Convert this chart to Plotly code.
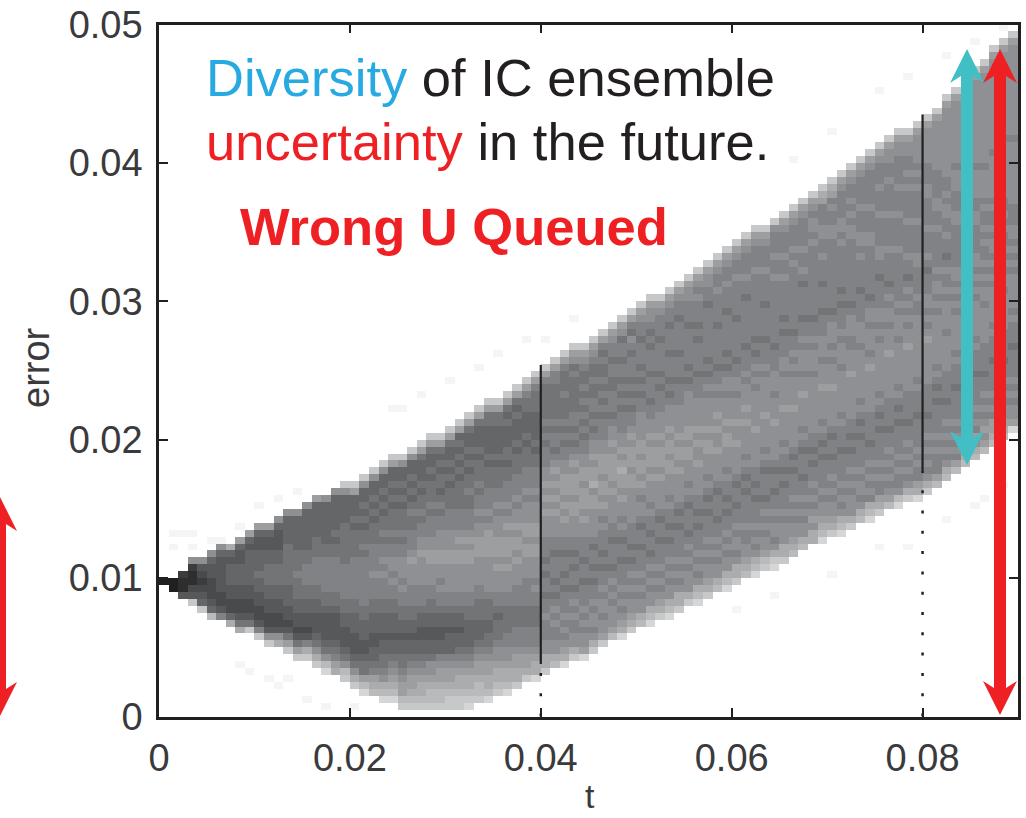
import plotly.graph_objects as go

# Each column of the density picture, bottom to top, one character per cell (dark 0 .. light f)
LOWER_ROW = [19,18,17,16,15,14,14,13,12,12,
             11,10,10,9,8,8,7,6,6,5,
             4,3,3,2,2,1,1,1,1,1,
             1,1,1,2,2,3,3,4,5,5,
             6,7,7,8,8,9,10,11,11,12,
             13,13,14,14,15,16,16,17,18,18,
             19,20,20,21,21,22,23,24,25,25,
             26,26,27,28,28,29,30,30,31,31,
             32,33,34,35,36,37,38,39,40,41]
SHADES = [
 "0","00","4112","c431128","c5432348","b543334458","7433444445 8","a533445554 5a",
 "a643344555 4459","c643344555 55459","c743344556 5554459","c843344556 66554459",
 "a843344556 665544458","c964344555 6666665555 8","c964344556 6676665555 58",
 "ca74344556 6777665555 558","ca86544455 6677776665 55559","db86544445 6677777665 555558",
 "a976544445 6677777665 6555558",
 "cb86544455 6677777666 66655558c","ca86544455 5667777776 666565559c",
 "db96654455 5667777777 6766565655 8c","ba97655445 5566777877 7766656565 58c",
 "dba8766554 5556677787 8776766565 6558c","dba9876554 5556677878 8776766656 56559c",
 "cb99876655 4556677878 8877676665 656558c","cba9987655 4556677788 8987776676 5656558c",
 "cbaa987655 4455677788 8898877676 65655569c","cbba988655 4455667788 8998877767 666565569c",
 "cbba998755 4455677878 8998887767 656656569c","ccba998755 5455677888 8998887776 6656565569 c",
 "ccbaa98765 5455677888 8998987776 6665656565 9c","dcbaa98765 5556677888 8998987776 6766565655 69c",
 "cbba998765 5566677888 8999887877 6766656555 69c","dbaa998766 5566678888 8999987877 7666565555 669c",
 "cbaa988766 6567788898 9998887877 6665655556 69c","dbaa988776 6667788898 9998987877 7665665556 569c",
 "caa9987776 6677788898 9989887877 7666565556 569c","ca99877766 6777788899 8998887877 7666565556 679c",
 "daa9877766 6778788899 8998887877 7665655556 6679c",
 "caa8877787 7677676777 8889898988 7776767666 6679c","ba88778787 6767776778 8898989898 7677676666 6779c",
 "da98787877 7676776778 8989899988 7767676667 66679c","ca88778787 6776767788 8998999898 7676776666 67689c",
 "d988787877 7677677788 9899989988 7767676767 66789c","ca87887877 6767767888 8998a99898 8767677667 66789c",
 "c988788787 7676777878 9899899988 7776767676 67679c","b988878787 6777677888 8989999898 8767776677 67789c",
 "da98787877 7677678788 9899a98988 7776767677 677689c","ca98878787 6767778888 8998999898 7767676777 678679c",
 "ba88787877 7677678878 9899899888 8776767677 767789c","dba8878787 6776778788 8989998988 7767776777 6767889c",
 "ca98787877 7677678888 9899989888 7776767777 677789c","dba8878787 7676778788 8998998988 8767677767 7767789c",
 "caa8787877 7767678888 9899898888 7776777677 7767789c","ca88878787 6777678788 8998998888 8767677777 6777889c",
 "dba8787877 7676778888 9889898888 7776777767 677787 89c","ca98878787 7767678788 8998988887 8767677777 776778 89c",
 "ba88787877 6777678888 9889898878 7767777767 777877 89c","dba8878787 7676778788 8998988878 8767677777 67778778 9c",
 "caa8788787 7677678888 9889888788 7767777767 777787789c","ba98877877 7767678788 8898988878 7776777777 677877789c",
 "dba8787877 7676778888 8988888787 8767677777 7777877789 c","cb98878787 6777678788 8898888878 7776777767 777877789c",
 "dca8788787 7677678888 8988878887 7767777777 7787787778 c","caa8887877 7676778788 8898888788 7776767777 7877877789 c",
 "ba98878787 7767678888 8988887878 7767777777 7787877789 c","ba88787877 6777678788 8898878887 8776777767 8778777789 c",
 "aa89878787 7676778888 8888788878 7767777777 7778788789 c","dba9887877 7767678788 8898887888 7776777677 7877887779 ac",
 "ca98878787 7677678888 8988878788 8767777777 7778877879 ac","dba8787877 7767778788 8888788878 7776767777 7787887777 89c",
 "ca88878787 7676778888 8898887788 8767777777 7788787877 89c","ba87887877 7767678788 8888878887 7776777787 8877787777 89c",
 "dba7878787 7677778888 8898788878 8767777777 8877787777 789c","ca97787877 7767678788 8888878788 7777677887 7778777877 789c",
 "b987878787 7677778888 8898887887 8767777877 7787777877 889c","db87787877 7767678788 8888788878 7777777877 7787778777 7889c",
 "ca87878787 7677778888 8898878787 8767787777 8777787877 889c","da97787877 7767778788 8888888778 7777887777 8777787878 8889c",
 "ca87878787 7677778888 8898787887 7767877787 7778877788 8889c","b977787877 7767678788 8888878788 7877777877 8877778888 8889c",
 "ba87878787 7677778888 8788887877 8767787788 7877888888 88889c","b978787877 7767778788 8887878788 7777778877 7888788888 88889c",
 "ba88878787 7677778888 8788787877 8767887787 8888788888 888889c","ba89787877 7767778788 8887878788 7777887788 8878888888 888889c",
 "b989878787 7677778888 8788787877 8787787888 8788888888 888889c","ba99787877 7767778788 8887878788 7877878888 8878888888 8888889c",
 "ba98878787 7677778888 8788787877 8787788888 8887888888 8888889c","d988787877 7767778788 8887878788 7778888888 8878888888 8888889c",
]
FAINT_COL = [1,2,3,1,3,5,6,8,10,12,14,24,25,27,30,33,35,38,40,43,66,70,75,78,82,85,88,15,17,20,60,64,70,75,78,82,85,88,86,8,9,11,12,13]
FAINT_ROW = [26,26,26,24,24,25,25,27,30,31,32,44,44,46,48,50,52,54,54,57,80,84,90,92,95,97,99,2,1,1,15,17,20,24,24,28,30,33,31,7,6,5,4,5]

X_TICKS = [0, 0.02, 0.04, 0.06, 0.08]
X_LABELS = ["0", "0.02", "0.04", "0.06", "0.08"]
Y_TICKS = [0, 0.01, 0.02, 0.03, 0.04, 0.05]
Y_LABELS = ["0", "0.01", "0.02", "0.03", "0.04", "0.05"]

SOLID_LINES = [(0.04, 0.0038, 0.0254), (0.08, 0.0178, 0.0435)]
DOTTED_LINES = [(0.04, 0.0, 0.0038), (0.08, 0.0, 0.0178)]

W, H = 1026, 818
L, R, T, B = 159, 1018, 24.5, 716.5
TMAX, EMAX = 0.09, 0.05
INK = "#231f20"
LABEL = "#3a3a3c"
BLUE = "#27aae1"
RED = "#ee2024"
TEAL = "#41bfc4"

NCOL, NROW = 90, 100
z = [[None] * NCOL for _ in range(NROW)]
for c, r in zip(FAINT_COL, FAINT_ROW):
    z[r][c] = 245
for c, (low, s) in enumerate(zip(LOWER_ROW, SHADES)):
    for k, ch in enumerate(s.replace(" ", "")):
        if low + k < NROW:
            z[low + k][c] = 32 + 14 * int(ch, 16)

fig = go.Figure(go.Heatmap(
    z=z, x0=0.0005, dx=0.001, y0=0.00025, dy=0.0005,
    zmin=0, zmax=255, showscale=False, hoverinfo="skip",
    colorscale=[[0, "#000000"], [0.55, "#8b8c8f"], [1, "#ffffff"]],
))

def px(x):
    return x / W
def py(y):
    return 1 - y / H

def arrow(xc, tip_top, tip_bot, color):
    """outline of a notched double-headed vertical arrow, pixel units converted to paper"""
    hs, hh, hl, n = 6, 17, 34, 7
    pts = [(xc, tip_top), (xc + hh, tip_top + hl), (xc + hs, tip_top + hl - n),
           (xc + hs, tip_bot - hl + n), (xc + hh, tip_bot - hl), (xc, tip_bot),
           (xc - hh, tip_bot - hl), (xc - hs, tip_bot - hl + n),
           (xc - hs, tip_top + hl - n), (xc - hh, tip_top + hl)]
    path = "M" + " L".join(f"{px(a):.5f},{py(b):.5f}" for a, b in pts) + " Z"
    return dict(type="path", xref="paper", yref="paper", path=path,
                fillcolor=color, line=dict(width=0), layer="above")

shapes = []
for t, a, b in SOLID_LINES:
    shapes.append(dict(type="line", xref="x", yref="y", x0=t, x1=t, y0=a, y1=b,
                       line=dict(color=INK, width=2.2), layer="above"))
for t, a, b in DOTTED_LINES:
    shapes.append(dict(type="line", xref="x", yref="y", x0=t, x1=t, y0=a, y1=b,
                       line=dict(color=INK, width=2.5, dash="3px,17.3px"), layer="above"))
shapes += [arrow(967, 49, 465, TEAL), arrow(1000, 49, 715, RED), arrow(0, 497, 716, RED)]

def note(text, x, y, size, bold=False):
    return dict(text=f"<b>{text}</b>" if bold else text, xref="paper", yref="paper",
                x=px(x), y=py(y), xanchor="left", yanchor="middle", showarrow=False,
                font=dict(family="Liberation Sans", size=size, color=INK))

annotations = [
    note(f'<span style="color:{BLUE}">Diversity</span> of IC ensemble', 204, 77, 52.5),
    note(f'<span style="color:{RED}">uncertainty</span> in the future.', 204, 142, 52.5),
    note(f'<span style="color:{RED}">Wrong U Queued</span>', 238, 227, 52.5, bold=True),
    dict(text="error", xref="paper", yref="paper", x=px(36), y=py(368), textangle=-90,
         xanchor="center", yanchor="middle", showarrow=False,
         font=dict(family="Liberation Sans", size=38, color=LABEL)),
    dict(text="t", xref="paper", yref="paper", x=px(590), y=py(796),
         xanchor="center", yanchor="middle", showarrow=False,
         font=dict(family="Liberation Sans", size=34, color=LABEL)),
]

axis_common = dict(
    ticks="inside", ticklen=9, tickwidth=2, tickcolor=INK, showline=True, linecolor=INK,
    linewidth=2.5, mirror="ticks", showgrid=False, zeroline=False, automargin=False,
    tickfont=dict(family="Liberation Sans", size=38, color=LABEL),
)
fig.update_layout(
    width=W, height=H, margin=dict(l=0, r=0, t=0, b=0, autoexpand=False),
    paper_bgcolor="white", plot_bgcolor="white", showlegend=False,
    xaxis=dict(domain=[px(L), px(R)], range=[0, TMAX], tickvals=X_TICKS, ticktext=X_LABELS,
               ticklabelstandoff=6, **axis_common),
    yaxis=dict(domain=[py(B), py(T)], range=[0, EMAX], tickvals=Y_TICKS, ticktext=Y_LABELS,
               ticklabelstandoff=6, **axis_common),
    shapes=shapes, annotations=annotations,
)
fig.write_html("out.html", config={"displayModeBar": False},
               post_script="document.body.style.margin='0';document.documentElement.style.overflow='hidden';")
